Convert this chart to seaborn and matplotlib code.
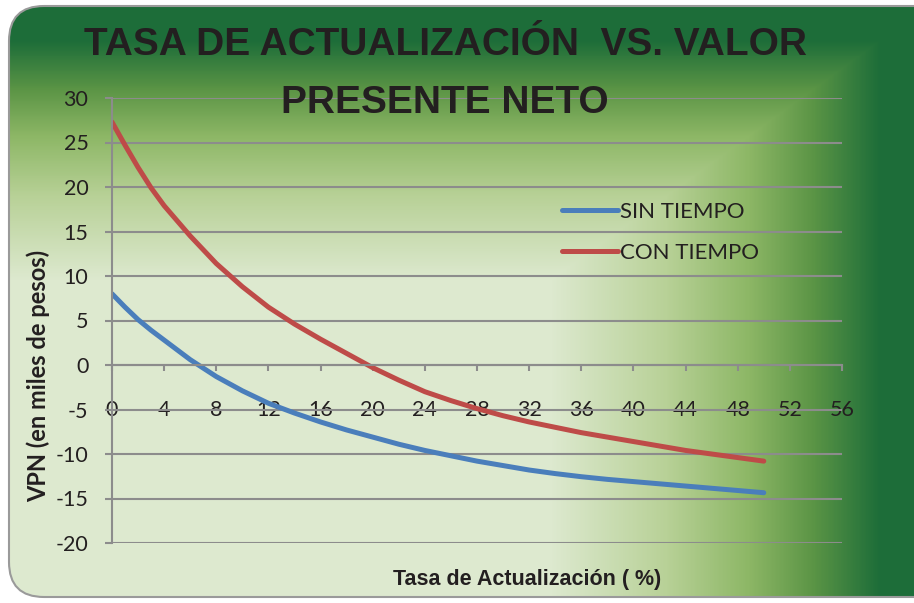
import numpy as np
import pandas as pd
import seaborn as sns
import matplotlib.pyplot as plt
from matplotlib.colors import LinearSegmentedColormap
from matplotlib.patches import FancyBboxPatch
from matplotlib.lines import Line2D

# datos (tasa en %, VPN en miles de pesos)
tasa = [0, 1, 2, 3, 4, 6, 8, 10, 12, 14, 16, 18, 20, 22, 24, 26, 28, 30, 32, 34, 36, 38, 40, 42, 44, 46, 48, 50]
sin_tiempo = [8.0, 6.5, 5.1, 3.9, 2.8, 0.6, -1.3, -2.9, -4.3, -5.4, -6.4, -7.3, -8.1, -8.9, -9.6, -10.2, -10.8,
              -11.3, -11.8, -12.2, -12.55, -12.85, -13.1, -13.35, -13.6, -13.85, -14.1, -14.35]
con_tiempo = [27.3, 24.7, 22.2, 19.9, 17.9, 14.5, 11.4, 8.8, 6.5, 4.6, 2.9, 1.3, -0.3, -1.7, -3.0, -4.0, -4.9,
              -5.7, -6.4, -7.0, -7.6, -8.1, -8.6, -9.1, -9.6, -10.0, -10.4, -10.8]
series = ['SIN TIEMPO', 'CON TIEMPO']
colores = ['#4a7ebb', '#be4b48']
xticks = list(range(0, 57, 4))
yticks = list(range(-20, 31, 5))

df = pd.DataFrame({'tasa': tasa * 2,
                   'vpn': sin_tiempo + con_tiempo,
                   'serie': [series[0]] * len(tasa) + [series[1]] * len(tasa)})

sns.set_theme(style='white')
plt.rcParams['font.family'] = ['Lato', 'DejaVu Sans']
plt.rcParams['axes.unicode_minus'] = False
titfont = ['Liberation Sans', 'DejaVu Sans']
texto = '#231f20'
gris = '#8c8c8c'

W, H = 914, 603
fig = plt.figure(figsize=(W / 100, H / 100), dpi=100)
fig.patch.set_facecolor('white')

# fondo degradado verde
yy, xx = np.mgrid[0:H, 0:W]
t_top = np.clip((280 - yy) / 240.0, 0, 1)
t_right = np.clip((xx - 550) / 330.0, 0, 1)
t = np.maximum(t_top, t_right)
cmap = LinearSegmentedColormap.from_list('verde', [(0, '#dde9cf'), (0.35, '#b8d197'), (0.6, '#8db766'),
                                                   (0.8, '#5a9445'), (1, '#1d6d39')])
bg = fig.add_axes([0, 0, 1, 1], zorder=0)
bg.axis('off')
img = bg.imshow(t, cmap=cmap, vmin=0, vmax=1, extent=[0, W, H, 0], aspect='auto', interpolation='bilinear')
bg.set_xlim(0, W)
bg.set_ylim(H, 0)
box = FancyBboxPatch((9, 6), W + 40, H - 12, boxstyle='round,pad=0,rounding_size=35',
                     transform=bg.transData, fc='none', ec='#9a9a9a', lw=1.5)
bg.add_patch(box)
img.set_clip_path(box)

ax = fig.add_axes([112 / W, 1 - 543 / H, 730 / W, 445 / H], zorder=1)
ax.patch.set_alpha(0)
sns.lineplot(data=df, x='tasa', y='vpn', hue='serie', palette=colores, linewidth=3.6,
             legend=False, ax=ax, solid_capstyle='round')

ax.set_xlim(0, 56)
ax.set_ylim(-20, 30)
ax.set_xticks(xticks)
ax.set_yticks(yticks)
ax.yaxis.grid(True, color=gris, lw=1.5)
ax.xaxis.grid(False)
ax.set_axisbelow(True)
ax.spines['top'].set_visible(False)
ax.spines['right'].set_visible(False)
ax.spines['bottom'].set_position(('data', 0))
for s in ['left', 'bottom']:
    ax.spines[s].set_color(gris)
    ax.spines[s].set_linewidth(1.5)
ax.tick_params(axis='y', direction='out', length=5, width=1.5, color=gris, pad=12,
               labelsize=15.5, labelcolor=texto, left=True)
ax.tick_params(axis='x', direction='out', length=4.5, width=1.5, color=gris, pad=21,
               labelsize=15.5, labelcolor=texto, bottom=True)
ax.set_xlabel('')
ax.set_ylabel('')

handles = [Line2D([], [], color=c, lw=3.6, solid_capstyle='round') for c in colores]
ax.legend(handles, series, loc='upper left', bbox_to_anchor=(542 / W, 1 - 182 / H),
          bbox_transform=fig.transFigure, frameon=False, fontsize=16, handlelength=2.5,
          handletextpad=0.12, labelspacing=0.95, labelcolor=texto)

fig.text(445 / W, 1 - 45 / H, 'TASA DE ACTUALIZACIÓN  VS. VALOR', ha='center', va='center',
         fontsize=28, fontweight='bold', family=titfont, color=texto)
fig.text(445 / W, 1 - 103 / H, 'PRESENTE NETO', ha='center', va='center',
         fontsize=28, fontweight='bold', family=titfont, color=texto)
fig.text(527 / W, 1 - 580 / H, 'Tasa de Actualización ( %)', ha='center', va='center',
         fontsize=15.5, fontweight='bold', family=titfont, color=texto)
fig.text(38 / W, 1 - 376 / H, 'VPN (en miles de pesos)', ha='center', va='center', rotation=90,
         fontsize=17, fontweight='bold', color=texto)

fig.savefig('out.png', dpi=100)
